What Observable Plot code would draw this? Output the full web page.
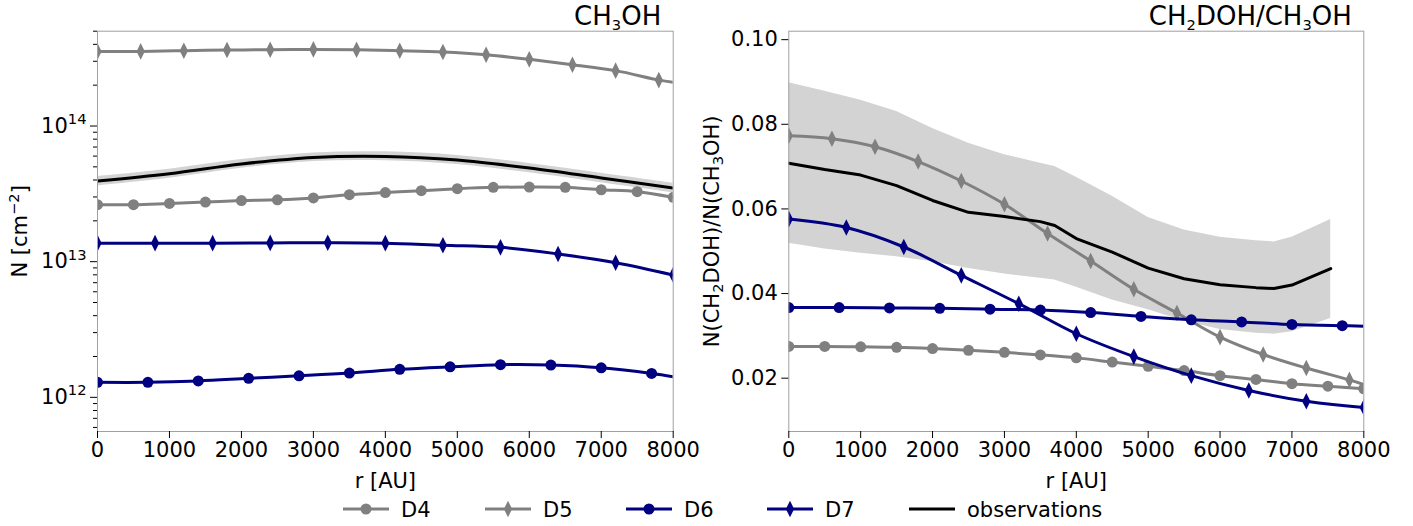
<!DOCTYPE html>
<html><head><meta charset="utf-8">
<script src="https://cdn.jsdelivr.net/npm/d3@7"></script>
<script src="https://cdn.jsdelivr.net/npm/@observablehq/plot@0.6"></script>
<style>
body{margin:0;background:#fff;font-family:"DejaVu Sans",sans-serif;}
#wrap{position:relative;width:1413px;height:526px;overflow:hidden;background:#fff;}
#left,#right{position:absolute;top:0;}
#left{left:0}
#right{left:700px}
#legend{position:absolute;left:0;top:490px;}
</style></head><body>
<div id="wrap"><div id="left"></div><div id="right"></div><svg id="legend" width="1413" height="36"></svg></div>
<script>
// ---------- data: left panel (CH3OH column density) ----------
const d4L_r = [0,500,1000,1500,2000,2500,3000,3500,4000,4500,5000,5500,6000,6500,7000,7500,8000];
const d4L_N = [2.63e13,2.63e13,2.69e13,2.75e13,2.82e13,2.86e13,2.95e13,3.12e13,3.23e13,3.34e13,3.45e13,3.53e13,3.55e13,3.53e13,3.39e13,3.28e13,2.98e13];
const d5L_r = [0,600,1200,1800,2400,3000,3600,4200,4800,5400,6000,6600,7200,7800,8000];
const d5L_N = [3.55e14,3.55e14,3.59e14,3.63e14,3.65e14,3.67e14,3.65e14,3.59e14,3.51e14,3.35e14,3.10e14,2.83e14,2.56e14,2.18e14,2.10e14];
const d6L_r = [0,700,1400,2100,2800,3500,4200,4900,5600,6300,7000,7700,8000];
const d6L_N = [1.29e12,1.29e12,1.32e12,1.38e12,1.44e12,1.51e12,1.61e12,1.68e12,1.74e12,1.73e12,1.65e12,1.50e12,1.42e12];
const d7L_r = [0,800,1600,2400,3200,4000,4800,5600,6400,7200,8000];
const d7L_N = [1.37e13,1.37e13,1.37e13,1.375e13,1.38e13,1.37e13,1.32e13,1.275e13,1.14e13,0.983e13,0.798e13];
const obsL_r = [0,1000,2000,3000,4000,5000,6000,7000,8000];
const obsL_N = [3.93e13,4.45e13,5.25e13,5.87e13,5.97e13,5.61e13,4.90e13,4.14e13,3.49e13];
const obsL_lo = [3.62e13,4.12e13,4.88e13,5.47e13,5.55e13,5.20e13,4.52e13,3.82e13,3.22e13];
const obsL_hi = [4.25e13,4.81e13,5.66e13,6.33e13,6.45e13,6.06e13,5.30e13,4.48e13,3.78e13];

// ---------- data: right panel (CH2DOH/CH3OH ratio) ----------
const d4R_r = [0,500,1000,1500,2000,2500,3000,3500,4000,4500,5000,5500,6000,6500,7000,7500,8000];
const d4R_v = [0.0275,0.0275,0.0274,0.0273,0.0270,0.0266,0.0261,0.0255,0.0248,0.0238,0.0228,0.0218,0.0206,0.0197,0.0187,0.0181,0.0175];
const d5R_r = [0,600,1200,1800,2400,3000,3600,4200,4800,5400,6000,6600,7200,7800,8000];
const d5R_v = [0.0773,0.0766,0.0747,0.0712,0.0666,0.0611,0.0542,0.0477,0.0410,0.0354,0.0297,0.0256,0.0224,0.0196,0.0185];
const d6R_r = [0,700,1400,2100,2800,3500,4200,4900,5600,6300,7000,7700,8000];
const d6R_v = [0.0367,0.0367,0.0366,0.0365,0.0363,0.0361,0.0355,0.0346,0.0338,0.0333,0.0327,0.0324,0.0323];
const d7R_r = [0,800,1600,2400,3200,4000,4800,5600,6400,7200,8000];
const d7R_v = [0.0576,0.0556,0.0510,0.0443,0.0376,0.0305,0.0251,0.0206,0.0171,0.01455,0.0131];
const obsR_r  = [0,500,1000,1500,2000,2500,3000,3500,3700,4000,4500,5000,5500,6000,6500,6750,7000,7540];
const obsR_v  = [0.0708,0.0693,0.0680,0.0655,0.0620,0.0592,0.0582,0.0570,0.0561,0.0530,0.0498,0.0460,0.0435,0.0421,0.0414,0.0412,0.0420,0.0459];
const obsR_lo = [0.0519,0.0505,0.0495,0.0487,0.0475,0.0459,0.0446,0.0436,0.0432,0.0415,0.0385,0.0362,0.0335,0.0315,0.0306,0.0304,0.0310,0.0341];
const obsR_hi = [0.0898,0.0878,0.0857,0.0830,0.0790,0.0755,0.0728,0.0708,0.0700,0.0675,0.0630,0.0580,0.0550,0.0533,0.0525,0.0522,0.0533,0.0575];

// ---------- series definitions ----------
const seriesNames = ["D4","D5","D6","D7"];
const seriesColors = {D4:"#808080", D5:"#808080", D6:"#000080", D7:"#000080"};
const seriesMarker = {D4:"circle", D5:"thin", D6:"circle", D7:"thin"};
const seriesStep = {D4:500, D5:600, D6:700, D7:800};

const thinDiamond = {draw(ctx, size){const r=Math.sqrt(size/Math.PI);ctx.moveTo(0,-r);ctx.lineTo(r*0.5,0);ctx.lineTo(0,r);ctx.lineTo(-r*0.5,0);ctx.closePath();}};

const zip = (rs, vs) => rs.map((r,i)=>({r, v: vs[i]}));
const leftSeries = {D4: zip(d4L_r,d4L_N), D5: zip(d5L_r,d5L_N), D6: zip(d6L_r,d6L_N), D7: zip(d7L_r,d7L_N)};
const rightSeries = {D4: zip(d4R_r,d4R_v), D5: zip(d5R_r,d5R_v), D6: zip(d6R_r,d6R_v), D7: zip(d7R_r,d7R_v)};
const obsL = obsL_r.map((r,i)=>({r, v: obsL_N[i], lo: obsL_lo[i], hi: obsL_hi[i]}));
const obsR = obsR_r.map((r,i)=>({r, v: obsR_v[i], lo: obsR_lo[i], hi: obsR_hi[i]}));

function seriesMarks(series){
  const marks = [];
  for (const name of seriesNames) {
    const data = series[name];
    marks.push(Plot.line(data, {x:"r", y:"v", stroke: seriesColors[name], strokeWidth: 3, curve: "catmull-rom", clip: true}));
    const dots = data.filter(d => d.r % seriesStep[name] === 0);
    if (seriesMarker[name] === "circle")
      marks.push(Plot.dot(dots, {x:"r", y:"v", r: 5.5, fill: seriesColors[name], stroke: "none", clip: true}));
    else
      marks.push(Plot.dot(dots, {x:"r", y:"v", r: 8.3, symbol: thinDiamond, fill: seriesColors[name], stroke: "none", clip: true}));
  }
  return marks;
}

const FONT = "DejaVu Sans";
const FS = 21;
const common = {height: 500, marginTop: 30.7, marginBottom: 69, style: {fontFamily: FONT, fontSize: FS + "px", color: "black", background: "white", overflow: "visible"}};
const xAxis = [
  Plot.axisX({ticks: d3.range(0, 8001, 1000), tickSize: 7, tickPadding: 4, tickFormat: d3.format("d"), fontSize: FS, label: "r [AU]", labelAnchor: "center", labelArrow: "none", labelOffset: 56})
];
const majorL = [1e12, 1e13, 1e14];
const minorL = [];
for (const dec of [1e11,1e12,1e13,1e14]) for (let k=2;k<=9;k++){const v=k*dec; if(v>=5.6e11 && v<=5e14) minorL.push(v);}

// turn "x^{a}" / "x_{b}" into real superscript / subscript tspans
function mathify(svg){
  const ns = "http://www.w3.org/2000/svg";
  d3.select(svg).selectAll("text").each(function(){
    const el = this;
    const s = el.textContent;
    if (!/[_^]\{/.test(s)) return;
    const fs = parseFloat(el.getAttribute("font-size")) || parseFloat(getComputedStyle(el).fontSize) || FS;
    while (el.firstChild) el.removeChild(el.firstChild);
    let shift = 0;
    const add = (txt, kind) => {
      if (!txt) return;
      const t = document.createElementNS(ns, "tspan");
      t.textContent = txt;
      const target = kind === "^" ? -0.42 * fs : kind === "_" ? 0.22 * fs : 0;
      if (kind) t.setAttribute("font-size", (0.7 * fs).toFixed(1));
      if (target !== shift) t.setAttribute("dy", (target - shift).toFixed(2));
      shift = target;
      el.appendChild(t);
    };
    const re = /([_^])\{([^}]*)\}/g;
    let last = 0, m;
    while ((m = re.exec(s))) { add(s.slice(last, m.index), null); add(m[2], m[1]); last = re.lastIndex; }
    add(s.slice(last), null);
  });
}

const left = Plot.plot({
  ...common, width: 700, marginLeft: 97, marginRight: 27.3,
  x: {domain: [0, 8000]},
  y: {type: "log", domain: [5.6e11, 5e14]},
  marks: [
    Plot.areaY(obsL, {x:"r", y1:"lo", y2:"hi", fill:"#d3d3d3", curve:"catmull-rom", clip: true}),
    Plot.line(obsL, {x:"r", y:"v", stroke:"black", strokeWidth: 3, curve:"catmull-rom", clip: true}),
    ...seriesMarks(leftSeries),
    Plot.frame({stroke: "#a0a0a0", strokeWidth: 1}),
    ...xAxis,
    Plot.axisY(minorL, {tickSize: 4, tickFormat: () => "", label: null}),
    Plot.axisY(majorL, {tickSize: 7, tickPadding: 4, fontSize: FS, tickFormat: d => "10^{" + Math.round(Math.log10(d)) + "}", label: "N [cm^{−2}]", labelAnchor: "center", labelArrow: "none", labelOffset: 85}),
    Plot.text(["CH_{3}OH"], {frameAnchor: "top-right", dx: -12, dy: -6, lineAnchor: "bottom", textAnchor: "end", fontSize: 26})
  ]
});
mathify(left);
document.getElementById("left").appendChild(left);

const right = Plot.plot({
  ...common, width: 713, marginLeft: 88.3, marginRight: 49.7,
  x: {domain: [0, 8000]},
  y: {domain: [0.0074, 0.102]},
  marks: [
    Plot.areaY(obsR, {x:"r", y1:"lo", y2:"hi", fill:"#d3d3d3", curve:"linear", clip: true}),
    ...seriesMarks(rightSeries),
    Plot.line(obsR, {x:"r", y:"v", stroke:"black", strokeWidth: 3, curve:"linear", clip: true}),
    Plot.frame({stroke: "#a0a0a0", strokeWidth: 1}),
    ...xAxis,
    Plot.axisY([0.02,0.04,0.06,0.08,0.10], {tickSize: 7, tickPadding: 4, fontSize: FS, tickFormat: d3.format(".2f"), label: "N(CH_{2}DOH)/N(CH_{3}OH)", labelAnchor: "center", labelArrow: "none", labelOffset: 85}),
    Plot.text(["CH_{2}DOH/CH_{3}OH"], {frameAnchor: "top-right", dx: -12, dy: -6, lineAnchor: "bottom", textAnchor: "end", fontSize: 26})
  ]
});
mathify(right);
document.getElementById("right").appendChild(right);

// ---------- legend ----------
const legendItems = ["D4","D5","D6","D7","observations"];
const lg = d3.select("#legend").attr("font-family", FONT).attr("font-size", FS);
const legendX = [343, 485, 626, 767, 909];
const ly = 19;
legendItems.forEach((name, i) => {
  const x0 = legendX[i];
  const color = name === "observations" ? "black" : seriesColors[name];
  lg.append("line").attr("x1", x0).attr("x2", x0 + 46).attr("y1", ly).attr("y2", ly).attr("stroke", color).attr("stroke-width", 3);
  if (name !== "observations") {
    if (seriesMarker[name] === "circle")
      lg.append("circle").attr("cx", x0 + 23).attr("cy", ly).attr("r", 5.5).attr("fill", color);
    else {
      const p = d3.path(); thinDiamond.draw(p, 8.3*8.3*Math.PI);
      lg.append("path").attr("d", p.toString()).attr("transform", `translate(${x0+23},${ly})`).attr("fill", color);
    }
  }
  lg.append("text").attr("x", x0 + 58).attr("y", ly).attr("dy", "0.36em").text(name);
});
</script>
</body></html>
